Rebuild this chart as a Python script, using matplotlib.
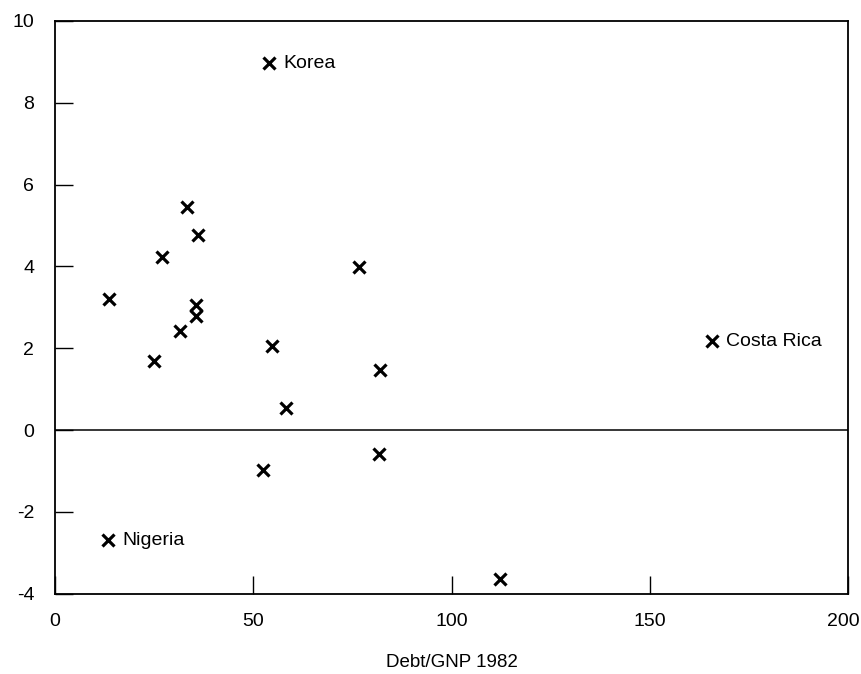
import numpy as np
import matplotlib
matplotlib.use("Agg")
import matplotlib.pyplot as plt
import matplotlib.transforms as mtransforms

plt.rcParams['font.family'] = ['Liberation Sans', 'DejaVu Sans']
plt.rcParams['axes.unicode_minus'] = False

# debt/GNP 1982 vs growth
debt = [54.0, 33.3, 36.1, 27.0, 76.7, 13.6, 35.5, 35.5, 31.5, 25.0,
        54.8, 165.7, 81.9, 58.2, 52.5, 81.7, 13.4, 112.2]
growth = [8.97, 5.45, 4.76, 4.23, 3.98, 3.20, 3.05, 2.80, 2.42, 1.69,
          2.05, 2.17, 1.47, 0.54, -0.98, -0.59, -2.69, -3.64]

labels = {0: "Korea", 11: "Costa Rica", 16: "Nigeria"}

xticks = [0, 50, 100, 150, 200]
yticks = [-4, -2, 0, 2, 4, 6, 8, 10]

fig = plt.figure(figsize=(8.61, 6.74), dpi=100)
ax = fig.add_axes([0.064, 0.119, 0.921, 0.850])

ax.plot(debt, growth, linestyle='none', marker='x', color='black',
        markersize=9, markeredgewidth=2.3)
for i, name in labels.items():
    ax.annotate(name, (debt[i], growth[i]), xytext=(10, 0),
                textcoords='offset points', va='center', fontsize=14)

ax.axhline(0, color='black', linewidth=1.1)

ax.set_xlim(0, 200)
ax.set_ylim(-4, 10)
ax.set_xticks(xticks)
ax.set_yticks(yticks)
ax.tick_params(direction='in', length=13, width=1, labelsize=14)
ax.tick_params(axis='x', pad=14)
ax.tick_params(axis='y', pad=15)
for s in ax.spines.values():
    s.set_linewidth(1.3)

# last x label sits against the right edge, nudge it left a bit
last = ax.get_xticklabels()[-1]
last.set_transform(last.get_transform() +
                   mtransforms.ScaledTranslation(-5 / 100, 0, fig.dpi_scale_trans))

ax.set_xlabel("Debt/GNP 1982", fontsize=13.5, labelpad=17)

fig.savefig("out.png", dpi=100)
